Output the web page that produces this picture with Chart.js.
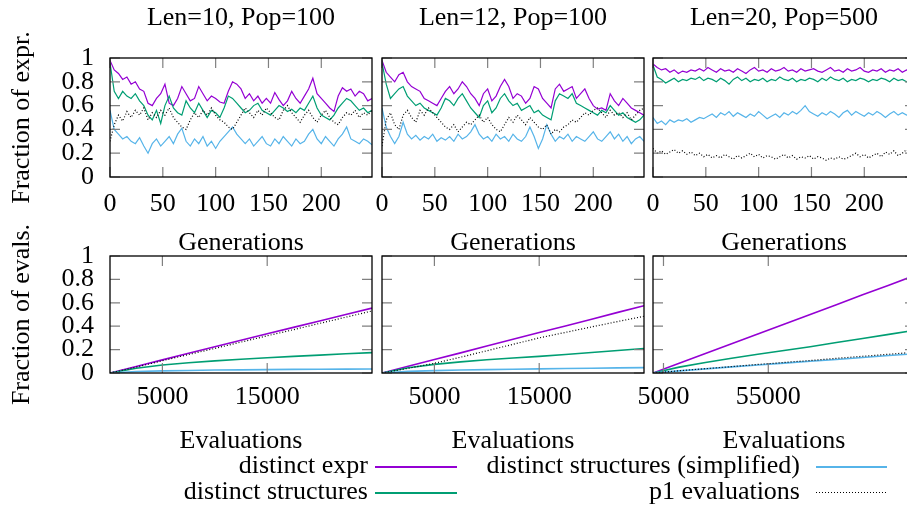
<!DOCTYPE html>
<html>
<head>
<meta charset="utf-8">
<script src="https://cdn.jsdelivr.net/npm/chart.js@4.4.0/dist/chart.umd.min.js"></script>
<style>
  html, body { margin: 0; padding: 0; background: #fff; overflow: hidden; }
  #wrap { position: relative; width: 907px; height: 506px; overflow: hidden;
          font-family: 'Liberation Serif', serif; font-size: 26px; color: #000; }
  #wrap canvas { position: absolute; }
  .lg-text { position: absolute; white-space: nowrap; line-height: 26px; }
  .lg-line { position: absolute; height: 1.5px; }
</style>
</head>
<body>
<div id="wrap"></div>
<script>
// ---- data ---------------------------------------------------------------
const panelTitles = ['Len=10, Pop=100', 'Len=12, Pop=100', 'Len=20, Pop=500'];
const seriesNames = ['distinct expr', 'distinct structures', 'distinct structures (simplified)', 'p1 evaluations'];
const seriesColors = ['#9400d3', '#009e73', '#56b4e9', '#000000'];

const genTicks = [0, 50, 100, 150, 200];
const fracTicks = [0, 0.2, 0.4, 0.6, 0.8, 1];
const evalTicks = [[5000, 15000], [5000, 15000], [5000, 55000]];
const genMax = 248;
const evalMax = [25000, 25000, 125000];

const gens = [0,4,8,12,16,20,24,28,32,36,40,44,48,52,56,60,64,68,72,76,80,84,88,92,96,100,
  104,108,112,116,120,124,128,132,136,140,144,148,152,156,160,164,168,172,176,180,184,188,192,
  196,200,204,208,212,216,220,224,228,232,236,240,244,248];

// Len=10, Pop=100
const exprL10 = [0.98,0.90,0.87,0.82,0.84,0.78,0.80,0.74,0.72,0.62, 0.60,0.66,0.70,0.78,0.62,0.60,0.66,0.76,0.70,0.64,
  0.66,0.76,0.70,0.64,0.68,0.66,0.63,0.62,0.72,0.80, 0.78,0.74,0.66,0.70,0.64,0.68,0.62,0.66,0.62,0.71,
  0.65,0.60,0.64,0.72,0.66,0.62,0.68,0.74,0.83,0.70, 0.66,0.62,0.58,0.55,0.68,0.75,0.72,0.74,0.68,0.72, 0.70,0.64,0.66];
const structL10 = [0.96,0.72,0.66,0.72,0.68,0.66,0.70,0.64,0.60,0.52, 0.48,0.56,0.45,0.60,0.68,0.58,0.54,0.52,0.64,0.58,
  0.54,0.62,0.56,0.50,0.56,0.54,0.50,0.58,0.68,0.66, 0.62,0.58,0.54,0.56,0.60,0.62,0.56,0.54,0.52,0.56,
  0.60,0.58,0.55,0.57,0.54,0.58,0.56,0.62,0.68,0.58, 0.52,0.50,0.48,0.52,0.58,0.62,0.66,0.64,0.60,0.56, 0.58,0.54,0.56];
const simpL10 = [0.56,0.40,0.36,0.32,0.34,0.30,0.28,0.33,0.26,0.20, 0.28,0.32,0.26,0.30,0.34,0.28,0.36,0.41,0.30,0.26,
  0.32,0.28,0.34,0.26,0.30,0.24,0.30,0.34,0.38,0.42, 0.36,0.32,0.28,0.32,0.26,0.30,0.34,0.28,0.26,0.32,
  0.28,0.34,0.30,0.26,0.32,0.28,0.30,0.36,0.40,0.32, 0.28,0.34,0.30,0.26,0.32,0.36,0.42,0.32,0.30,0.28, 0.32,0.30,0.27];
const p1L10 = [0.30,0.44,0.52,0.47,0.55,0.50,0.56,0.52,0.58,0.48, 0.54,0.50,0.56,0.52,0.58,0.50,0.46,0.42,0.40,0.48,
  0.54,0.50,0.56,0.52,0.58,0.52,0.48,0.46,0.42,0.40, 0.46,0.52,0.58,0.54,0.50,0.56,0.52,0.58,0.54,0.50,
  0.48,0.56,0.60,0.54,0.50,0.46,0.52,0.56,0.50,0.46, 0.52,0.56,0.50,0.46,0.44,0.50,0.54,0.52,0.56,0.50, 0.54,0.52,0.56];

// Len=12, Pop=100
const exprL12 = [0.98,0.88,0.84,0.80,0.86,0.88,0.80,0.76,0.74,0.72, 0.66,0.64,0.62,0.60,0.66,0.72,0.76,0.70,0.74,0.80,
  0.76,0.70,0.66,0.60,0.70,0.74,0.64,0.68,0.76,0.82, 0.76,0.66,0.70,0.68,0.62,0.66,0.76,0.74,0.66,0.62,
  0.58,0.74,0.78,0.72,0.74,0.76,0.66,0.70,0.74,0.66, 0.60,0.57,0.58,0.56,0.70,0.64,0.60,0.66,0.62,0.58, 0.56,0.54,0.52];
const structL12 = [0.96,0.78,0.66,0.70,0.74,0.76,0.68,0.64,0.60,0.62, 0.58,0.56,0.54,0.52,0.58,0.66,0.64,0.60,0.66,0.70,
  0.64,0.58,0.54,0.50,0.60,0.64,0.54,0.58,0.66,0.70, 0.64,0.60,0.62,0.56,0.58,0.60,0.54,0.56,0.52,0.50,
  0.48,0.64,0.70,0.68,0.66,0.70,0.62,0.60,0.58,0.56, 0.54,0.52,0.56,0.54,0.60,0.56,0.52,0.54,0.50,0.48, 0.46,0.48,0.52];
const simpL12 = [0.58,0.42,0.34,0.28,0.34,0.46,0.36,0.32,0.35,0.31, 0.34,0.32,0.36,0.30,0.33,0.31,0.34,0.30,0.36,0.32,
  0.34,0.38,0.44,0.36,0.32,0.34,0.30,0.36,0.32,0.34, 0.30,0.36,0.32,0.30,0.34,0.42,0.34,0.24,0.32,0.44,
  0.36,0.30,0.34,0.32,0.36,0.30,0.34,0.32,0.30,0.34, 0.38,0.32,0.30,0.34,0.38,0.32,0.36,0.30,0.34,0.28, 0.32,0.34,0.30];
const p1L12 = [0.26,0.48,0.54,0.44,0.40,0.52,0.56,0.50,0.46,0.56, 0.52,0.58,0.54,0.50,0.46,0.42,0.40,0.44,0.38,0.42,
  0.46,0.44,0.48,0.52,0.46,0.50,0.44,0.40,0.38,0.44, 0.50,0.46,0.52,0.48,0.44,0.50,0.46,0.42,0.40,0.44,
  0.36,0.40,0.38,0.42,0.44,0.48,0.46,0.50,0.54,0.52, 0.56,0.58,0.54,0.50,0.56,0.52,0.54,0.50,0.54,0.48, 0.52,0.56,0.58];

// Len=20, Pop=500
const exprL20 = [0.95,0.92,0.90,0.91,0.88,0.90,0.87,0.89,0.88,0.90, 0.89,0.91,0.89,0.92,0.90,0.88,0.91,0.89,0.90,0.88,
  0.91,0.89,0.87,0.90,0.92,0.89,0.90,0.88,0.91,0.89, 0.90,0.92,0.89,0.90,0.88,0.91,0.89,0.90,0.91,0.89,
  0.88,0.90,0.92,0.89,0.90,0.88,0.91,0.89,0.90,0.92, 0.89,0.88,0.90,0.89,0.91,0.88,0.90,0.89,0.91,0.88, 0.90,0.89,0.90];
const structL20 = [0.94,0.84,0.82,0.79,0.81,0.83,0.80,0.82,0.81,0.83, 0.82,0.84,0.81,0.83,0.82,0.80,0.83,0.81,0.78,0.82,
  0.84,0.81,0.83,0.80,0.82,0.81,0.83,0.80,0.82,0.81, 0.84,0.82,0.81,0.83,0.80,0.82,0.81,0.83,0.82,0.80,
  0.83,0.81,0.84,0.82,0.81,0.83,0.80,0.82,0.81,0.83, 0.82,0.80,0.82,0.81,0.83,0.82,0.80,0.83,0.81,0.82, 0.80,0.82,0.83];
const simpL20 = [0.50,0.45,0.47,0.44,0.48,0.46,0.48,0.47,0.49,0.46, 0.48,0.50,0.49,0.51,0.53,0.50,0.54,0.52,0.55,0.51,
  0.54,0.52,0.50,0.53,0.51,0.55,0.52,0.49,0.51,0.53, 0.50,0.54,0.52,0.55,0.53,0.56,0.60,0.55,0.53,0.51,
  0.54,0.52,0.55,0.53,0.50,0.54,0.56,0.52,0.55,0.53, 0.51,0.54,0.52,0.55,0.53,0.50,0.53,0.55,0.52,0.54, 0.52,0.53,0.51];
const p1L20 = [0.24,0.20,0.22,0.19,0.21,0.23,0.20,0.22,0.19,0.21, 0.18,0.20,0.17,0.19,0.16,0.18,0.16,0.19,0.17,0.15,
  0.18,0.16,0.18,0.20,0.17,0.19,0.16,0.18,0.17,0.15, 0.17,0.19,0.16,0.18,0.15,0.17,0.16,0.18,0.15,0.17,
  0.16,0.14,0.16,0.15,0.17,0.15,0.16,0.18,0.20,0.17, 0.19,0.16,0.18,0.20,0.17,0.21,0.19,0.22,0.18,0.20, 0.23,0.21,0.22];

// fraction of evaluations vs evaluations
const evalsPop100 = [0,2500,5000,7500,10000,12500,15000,17500,20000,22500,25000];
const evalsPop500 = [0,12500,25000,37500,50000,62500,75000,87500,100000,112500,125000];

const exprEvL10   = [0,0.055,0.112,0.168,0.224,0.280,0.336,0.390,0.445,0.500,0.555];
const structEvL10 = [0,0.040,0.068,0.088,0.104,0.118,0.130,0.142,0.153,0.164,0.174];
const simpEvL10   = [0,0.013,0.018,0.022,0.025,0.027,0.029,0.031,0.032,0.033,0.034];
const p1EvL10     = [0,0.050,0.105,0.158,0.210,0.264,0.318,0.370,0.424,0.477,0.530];

const exprEvL12   = [0,0.057,0.115,0.172,0.230,0.288,0.346,0.402,0.460,0.518,0.575];
const structEvL12 = [0,0.045,0.074,0.095,0.113,0.128,0.142,0.158,0.175,0.192,0.210];
const simpEvL12   = [0,0.014,0.020,0.025,0.029,0.032,0.035,0.038,0.041,0.044,0.046];
const p1EvL12     = [0,0.040,0.083,0.135,0.190,0.245,0.300,0.347,0.394,0.440,0.485];

const exprEvL20   = [0,0.084,0.167,0.250,0.334,0.417,0.500,0.584,0.668,0.751,0.835];
const structEvL20 = [0,0.050,0.090,0.126,0.160,0.193,0.225,0.260,0.295,0.330,0.365];
const simpEvL20   = [0,0.018,0.035,0.052,0.068,0.084,0.100,0.116,0.133,0.149,0.165];
const p1EvL20     = [0,0.019,0.037,0.055,0.073,0.090,0.107,0.125,0.143,0.160,0.178];

// ---- layout ----------------------------------------------------------------
const FONT = { family: "'Liberation Serif', serif", size: 26, weight: 'normal' };
const AREA_LEFT = [110, 382, 653];
const AREA_W = 262;
const TICK_LEN = 10;

Chart.defaults.font.family = FONT.family;
Chart.defaults.color = '#000';

const wrap = document.getElementById('wrap');

// gnuplot style box with inward ticks on all four sides
const framePlugin = {
  id: 'frame',
  afterDraw(chart) {
    const { ctx, chartArea: a } = chart;
    const x = chart.scales.x, y = chart.scales.y;
    ctx.save();
    ctx.strokeStyle = '#808080';
    ctx.lineWidth = 1.2;
    ctx.beginPath();
    x.ticks.forEach(t => {
      const px = x.getPixelForValue(t.value);
      ctx.moveTo(px, a.bottom); ctx.lineTo(px, a.bottom - TICK_LEN);
      ctx.moveTo(px, a.top); ctx.lineTo(px, a.top + TICK_LEN);
    });
    y.ticks.forEach(t => {
      const py = y.getPixelForValue(t.value);
      ctx.moveTo(a.left, py); ctx.lineTo(a.left + TICK_LEN, py);
      ctx.moveTo(a.right, py); ctx.lineTo(a.right - TICK_LEN, py);
    });
    ctx.stroke();
    ctx.strokeStyle = '#000';
    ctx.lineWidth = 1.3;
    ctx.strokeRect(a.left, a.top, a.width, a.height);
    ctx.restore();
  }
};

function makeDatasets(xs, cols, width) {
  return cols.map((vals, k) => ({
    label: seriesNames[k],
    data: vals.map((v, i) => ({ x: xs[i], y: v })),
    borderColor: seriesColors[k],
    borderWidth: k === 3 ? 1.2 : width,
    borderDash: k === 3 ? [1, 2] : [],
    pointRadius: 0,
    tension: 0,
    order: 3 - k,
  }));
}

function makePanel(col, row, xs, cols) {
  const top = row === 0;
  const first = col === 0;
  const padLeft = first ? 0 : 40;
  const cv = document.createElement('canvas');
  cv.width = (first ? AREA_LEFT[0] : padLeft) + AREA_W + 10;
  cv.height = top ? 259 : 241;
  cv.style.left = (AREA_LEFT[col] - (first ? AREA_LEFT[0] : padLeft)) + 'px';
  cv.style.top = (top ? 0 : 216) + 'px';
  wrap.appendChild(cv);

  const xTicks = top ? genTicks : evalTicks[col];

  new Chart(cv, {
    type: 'line',
    data: { datasets: makeDatasets(xs, cols, top ? 1.2 : 1.6) },
    options: {
      responsive: false,
      animation: false,
      layout: { padding: { left: padLeft, right: 10, top: top ? 0 : 40, bottom: 0 } },
      plugins: {
        legend: { display: false },
        tooltip: { enabled: false },
        title: {
          display: top,
          fullSize: false,
          text: panelTitles[col],
          font: FONT,
          color: '#000',
          padding: { top: 2.6, bottom: 24.2 },
        },
      },
      scales: {
        x: {
          type: 'linear',
          min: 0,
          max: top ? genMax : evalMax[col],
          afterBuildTicks: s => { s.ticks = xTicks.map(v => ({ value: v })); },
          afterFit: s => { s.height = top ? 82 : 84; },
          ticks: {
            font: FONT, color: '#000', padding: top ? 11.4 : 8.4,
            maxRotation: 0, autoSkip: false, callback: v => String(v),
          },
          grid: { display: false, drawTicks: false },
          border: { display: false },
          title: {
            display: true, text: top ? 'Generations' : 'Evaluations',
            font: FONT, color: '#000', padding: { top: 0, bottom: 0 },
          },
        },
        y: {
          min: 0,
          max: 1,
          afterBuildTicks: s => { s.ticks = fracTicks.map(v => ({ value: v })); },
          afterFit: s => { s.width = first ? AREA_LEFT[0] : 0; },
          ticks: {
            display: first, font: FONT, color: '#000', padding: 16,
            autoSkip: false, callback: v => String(v),
          },
          grid: { display: false, drawTicks: false },
          border: { display: false },
          title: {
            display: first, text: top ? 'Fraction of expr.' : 'Fraction of evals.',
            font: FONT, color: '#000', padding: { top: 7, bottom: 0 },
          },
        },
      },
    },
    plugins: [framePlugin],
  });
}

makePanel(0, 0, gens, [exprL10, structL10, simpL10, p1L10]);
makePanel(1, 0, gens, [exprL12, structL12, simpL12, p1L12]);
makePanel(2, 0, gens, [exprL20, structL20, simpL20, p1L20]);
makePanel(0, 1, evalsPop100, [exprEvL10, structEvL10, simpEvL10, p1EvL10]);
makePanel(1, 1, evalsPop100, [exprEvL12, structEvL12, simpEvL12, p1EvL12]);
makePanel(2, 1, evalsPop500, [exprEvL20, structEvL20, simpEvL20, p1EvL20]);

// ---- key below the panels (two columns, text then sample) ----------------
const keyTextRight = [368, 800];
const keyLineX = [[375, 457], [816, 887]];
const keyRowY = [466, 492];
const keyPos = [[0, 0], [0, 1], [1, 0], [1, 1]]; // [column, row] per series

seriesNames.forEach((name, k) => {
  const [c, r] = keyPos[k];
  const t = document.createElement('div');
  t.className = 'lg-text';
  t.textContent = name;
  t.style.right = (907 - keyTextRight[c]) + 'px';
  t.style.top = (keyRowY[r] - 14) + 'px';
  wrap.appendChild(t);

  const l = document.createElement('div');
  l.className = 'lg-line';
  l.style.left = keyLineX[c][0] + 'px';
  l.style.width = (keyLineX[c][1] - keyLineX[c][0]) + 'px';
  l.style.top = keyRowY[r] + 'px';
  if (k === 3) {
    l.style.height = '1px';
    l.style.background = 'repeating-linear-gradient(to right, #000 0 1px, transparent 1px 3px)';
  } else {
    l.style.background = seriesColors[k];
  }
  wrap.appendChild(l);
});
</script>
</body>
</html>
